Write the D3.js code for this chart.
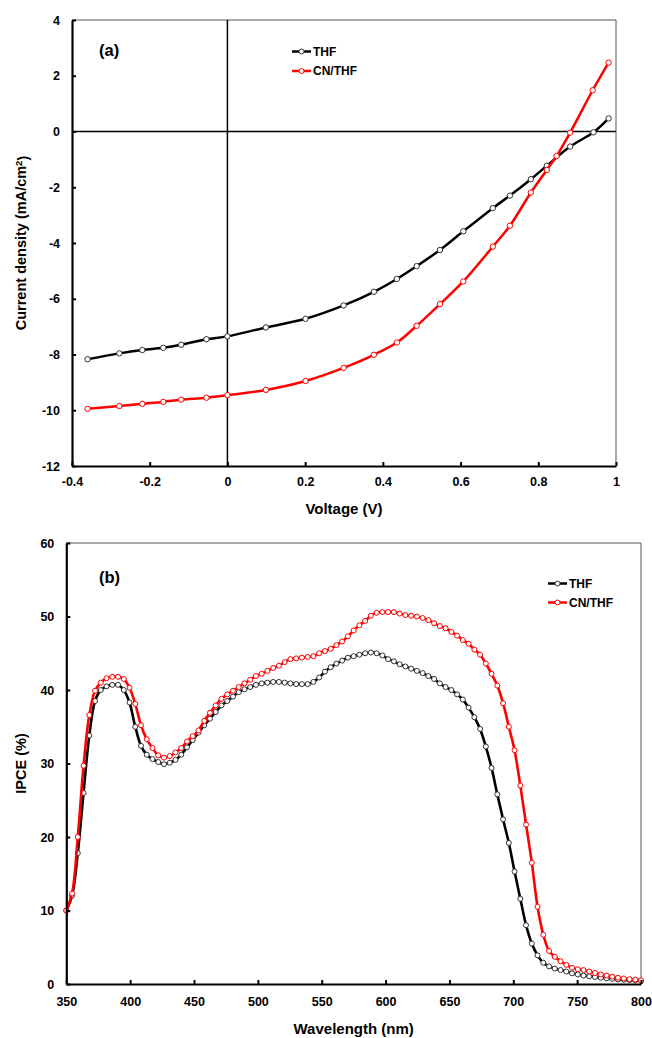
<!DOCTYPE html>
<html>
<head>
<meta charset="utf-8">
<script src="https://cdn.jsdelivr.net/npm/d3@7"></script>
<style>
  body { margin: 0; background: #fff; }
  text { font-family: "Liberation Sans", Arial, sans-serif; font-weight: bold; fill: #000; }
</style>
</head>
<body>
<div id="chart"></div>
<script>
// ---- (a) J-V curves ----
const voltTHF = [-0.36, -0.278, -0.219, -0.165, -0.119, -0.054, 0.0, 0.099, 0.201, 0.299, 0.377, 0.436, 0.487, 0.547, 0.607, 0.683, 0.727, 0.781, 0.822, 0.882, 0.942, 0.981];
const currTHF = [-8.17, -7.96, -7.84, -7.76, -7.65, -7.45, -7.35, -7.03, -6.72, -6.24, -5.75, -5.29, -4.83, -4.25, -3.58, -2.75, -2.30, -1.71, -1.23, -0.54, -0.03, 0.47];
const voltCN = [-0.36, -0.278, -0.219, -0.165, -0.119, -0.054, 0.0, 0.099, 0.201, 0.299, 0.377, 0.436, 0.487, 0.547, 0.607, 0.683, 0.727, 0.781, 0.822, 0.847, 0.882, 0.94, 0.981];
const currCN = [-9.95, -9.85, -9.77, -9.70, -9.62, -9.55, -9.46, -9.27, -8.95, -8.48, -8.01, -7.57, -6.97, -6.19, -5.38, -4.13, -3.38, -2.19, -1.38, -0.88, -0.04, 1.48, 2.47];
const voltTicks = [-0.4, -0.2, 0, 0.2, 0.4, 0.6, 0.8, 1];
const currTicks = [-12, -10, -8, -6, -4, -2, 0, 2, 4];

// ---- (b) IPCE spectra ----
const wavelengths = [
  350, 354.5, 359, 363.5, 368, 372.5, 377, 381.5, 386, 390.5,
  395, 399.5, 404, 408.5, 413, 417.5, 422, 426.5, 431, 435.5,
  440, 444.5, 449, 453.5, 458, 462.5, 467, 471.5, 476, 480.5,
  485, 489.5, 494, 498.5, 503, 507.5, 512, 516.5, 521, 525.5,
  530, 534.5, 539, 543.5, 548, 552.5, 557, 561.5, 566, 570.5,
  575, 579.5, 584, 588.5, 593, 597.5, 602, 606.5, 611, 615.5,
  620, 624.5, 629, 633.5, 638, 642.5, 647, 651.5, 656, 660.5,
  665, 669.5, 674, 678.5, 683, 687.5, 692, 696.5, 701, 705.5,
  710, 714.5, 719, 723.5, 728, 732.5, 737, 741.5, 746, 750.5,
  755, 759.5, 764, 768.5, 773, 777.5, 782, 786.5, 791, 795.5,
  800];
const ipceTHF = [
  10.0, 12.0, 17.8, 26.0, 33.8, 38.5, 40.0, 40.5, 40.7, 40.7,
  40.0, 38.3, 35.0, 32.4, 31.2, 30.6, 30.2, 29.9, 30.1, 30.5,
  31.2, 32.2, 33.2, 34.2, 35.2, 36.1, 37.0, 37.9, 38.5, 39.1,
  39.7, 40.1, 40.4, 40.7, 40.9, 41.0, 41.1, 41.1, 41.0, 40.9,
  40.8, 40.8, 40.8, 41.1, 41.7, 42.5, 43.1, 43.6, 44.0, 44.4,
  44.6, 44.8, 45.0, 45.1, 45.0, 44.7, 44.2, 43.9, 43.5, 43.2,
  42.9, 42.6, 42.3, 41.9, 41.5, 40.9, 40.4, 40.0, 39.4, 38.7,
  37.6, 36.3, 34.7, 32.3, 29.4, 25.8, 22.4, 19.2, 15.3, 11.6,
  8.0, 5.5, 3.9, 2.9, 2.4, 2.1, 1.9, 1.7, 1.45, 1.3,
  1.15, 1.05, 0.95, 0.85, 0.78, 0.7, 0.62, 0.58, 0.53, 0.5,
  0.45];
const ipceCN = [
  10.0, 12.3, 20.0, 29.7, 36.6, 39.9, 41.0, 41.6, 41.8, 41.8,
  41.5, 40.3, 38.1, 35.2, 33.3, 32.1, 31.1, 30.8, 31.0, 31.5,
  32.1, 33.0, 33.7, 34.5, 35.8, 36.9, 37.9, 38.8, 39.4, 39.9,
  40.4, 40.9, 41.4, 41.9, 42.2, 42.6, 43.0, 43.3, 43.8, 44.2,
  44.3, 44.4, 44.5, 44.6, 45.0, 45.3, 45.6, 46.1, 46.6, 47.3,
  48.1, 48.8, 49.4, 50.1, 50.5, 50.6, 50.6, 50.6, 50.4, 50.2,
  50.1, 50.0, 49.8, 49.5, 49.1, 48.7, 48.4, 47.9, 47.4, 46.8,
  46.3, 45.5, 44.8, 43.6, 42.2, 40.6, 38.2, 35.0, 31.8, 27.0,
  21.7, 16.5, 10.5, 6.7, 4.5, 3.7, 3.1, 2.6, 2.2, 2.0,
  1.9, 1.7, 1.5, 1.3, 1.15, 1.0, 0.85, 0.75, 0.65, 0.6,
  0.5];
const waveTicks = [350, 400, 450, 500, 550, 600, 650, 700, 750, 800];
const ipceTicks = [0, 10, 20, 30, 40, 50, 60];

const seriesNames = ["THF", "CN/THF"];
const seriesColors = ["#000000", "#ff0000"];
const markerStroke = ["#333333", "#ff0000"];

const svg = d3.select("#chart").append("svg")
  .attr("width", 652)
  .attr("height", 1038)
  .style("display", "block");

svg.append("rect").attr("width", 652).attr("height", 1038).attr("fill", "#fff");

const fmtNum = d => (d < 0 ? "-" : "") + (Number.isInteger(d) ? Math.abs(d) : Math.abs(d).toFixed(1));

function drawFrame(g, x, y) {
  const [x0, x1] = x.range();
  const [y0, y1] = y.range();
  // thin grey top/right border
  g.append("path")
    .attr("d", `M${x0},${y1}H${x1}V${y0}`)
    .attr("fill", "none")
    .attr("stroke", "#555")
    .attr("stroke-width", 1);
}

function styleAxis(sel) {
  sel.select(".domain").attr("stroke", "#000").attr("stroke-width", 2.2);
  sel.selectAll(".tick line").attr("stroke", "#000").attr("stroke-width", 2);
  sel.selectAll(".tick text")
    .style("font-size", "12.5px")
    .style("font-weight", "bold")
    .attr("fill", "#000");
}

function drawSeries(g, xs, ys, x, y, i, curve, r, lw) {
  const pts = xs.map((v, k) => [v, ys[k]]);
  const line = d3.line()
    .x(d => x(d[0]))
    .y(d => y(d[1]))
    .curve(curve);
  g.append("path")
    .datum(pts)
    .attr("fill", "none")
    .attr("stroke", seriesColors[i])
    .attr("stroke-width", lw)
    .attr("d", line);
  g.selectAll(null)
    .data(pts)
    .enter().append("circle")
    .attr("cx", d => x(d[0]))
    .attr("cy", d => y(d[1]))
    .attr("r", r)
    .attr("fill", "#fff")
    .attr("stroke", markerStroke[i])
    .attr("stroke-width", 1);
}

function drawLegend(g, lx, ly, gap) {
  seriesNames.forEach((name, i) => {
    const yy = ly + i * gap;
    g.append("line")
      .attr("x1", lx).attr("x2", lx + 19)
      .attr("y1", yy).attr("y2", yy)
      .attr("stroke", seriesColors[i])
      .attr("stroke-width", 2.5);
    g.append("circle")
      .attr("cx", lx + 9.5).attr("cy", yy).attr("r", 2.5)
      .attr("fill", "#fff")
      .attr("stroke", markerStroke[i])
      .attr("stroke-width", 1);
    g.append("text")
      .attr("x", lx + 21).attr("y", yy)
      .attr("dy", "0.36em")
      .style("font-size", "12px")
      .text(name);
  });
}

// ================= (a) =================
const xA = d3.scaleLinear().domain([-0.4, 1]).range([72, 616]);
const yA = d3.scaleLinear().domain([-12, 4]).range([466, 20]);
const gA = svg.append("g");

drawFrame(gA, xA, yA);

// zero lines
gA.append("line")
  .attr("x1", xA(0)).attr("x2", xA(0))
  .attr("y1", yA(4)).attr("y2", yA(-12))
  .attr("stroke", "#000").attr("stroke-width", 1.5);
gA.append("line")
  .attr("x1", xA(-0.4)).attr("x2", xA(1))
  .attr("y1", yA(0)).attr("y2", yA(0))
  .attr("stroke", "#000").attr("stroke-width", 1.5);

drawSeries(gA, voltTHF, currTHF, xA, yA, 0, d3.curveCatmullRom, 2.7, 2.5);
drawSeries(gA, voltCN, currCN, xA, yA, 1, d3.curveCatmullRom, 2.7, 2.5);

gA.append("g")
  .attr("transform", `translate(0,${yA(-12)})`)
  .call(d3.axisBottom(xA).tickValues(voltTicks).tickFormat(fmtNum).tickSizeInner(-4).tickSizeOuter(0).tickPadding(11))
  .call(styleAxis);
gA.append("g")
  .attr("transform", `translate(${xA(-0.4)},0)`)
  .call(d3.axisLeft(yA).tickValues(currTicks).tickFormat(fmtNum).tickSizeInner(-4).tickSizeOuter(0).tickPadding(12))
  .call(styleAxis);

gA.append("text")
  .attr("x", 99).attr("y", 50).attr("dy", "0.35em")
  .style("font-size", "16.5px")
  .text("(a)");

drawLegend(gA, 292, 51.5, 19.5);

gA.append("text")
  .attr("x", (72 + 616) / 2).attr("y", 509).attr("dy", "0.35em")
  .attr("text-anchor", "middle")
  .style("font-size", "15px")
  .text("Voltage (V)");

const yTitleA = gA.append("text")
  .attr("transform", `translate(21,${(20 + 466) / 2}) rotate(-90)`)
  .attr("dy", "0.35em")
  .attr("text-anchor", "middle")
  .style("font-size", "14.5px");
yTitleA.append("tspan").text("Current density (mA/cm");
yTitleA.append("tspan").attr("dy", "-0.45em").style("font-size", "9.5px").text("2");
yTitleA.append("tspan").attr("dy", "0.45em").text(")");

// ================= (b) =================
const xB = d3.scaleLinear().domain([350, 800]).range([66.3, 641]);
const yB = d3.scaleLinear().domain([0, 60]).range([984, 543]);
const gB = svg.append("g");

drawFrame(gB, xB, yB);

drawSeries(gB, wavelengths, ipceTHF, xB, yB, 0, d3.curveCatmullRom, 2.5, 2.6);
drawSeries(gB, wavelengths, ipceCN, xB, yB, 1, d3.curveCatmullRom, 2.5, 2.6);

gB.append("g")
  .attr("transform", `translate(0,${yB(0)})`)
  .call(d3.axisBottom(xB).tickValues(waveTicks).tickFormat(fmtNum).tickSizeInner(-4).tickSizeOuter(0).tickPadding(13))
  .call(styleAxis);
gB.append("g")
  .attr("transform", `translate(${xB(350)},0)`)
  .call(d3.axisLeft(yB).tickValues(ipceTicks).tickFormat(fmtNum).tickSizeInner(-4).tickSizeOuter(0).tickPadding(12))
  .call(styleAxis);

gB.append("text")
  .attr("x", 99).attr("y", 577).attr("dy", "0.35em")
  .style("font-size", "16.5px")
  .text("(b)");

drawLegend(gB, 548, 583.5, 19);

gB.append("text")
  .attr("x", (66.3 + 641) / 2).attr("y", 1029).attr("dy", "0.35em")
  .attr("text-anchor", "middle")
  .style("font-size", "15px")
  .text("Wavelength (nm)");

gB.append("text")
  .attr("transform", `translate(21,${(543 + 984) / 2}) rotate(-90)`)
  .attr("dy", "0.35em")
  .attr("text-anchor", "middle")
  .style("font-size", "14.5px")
  .text("IPCE (%)");
</script>
</body>
</html>
